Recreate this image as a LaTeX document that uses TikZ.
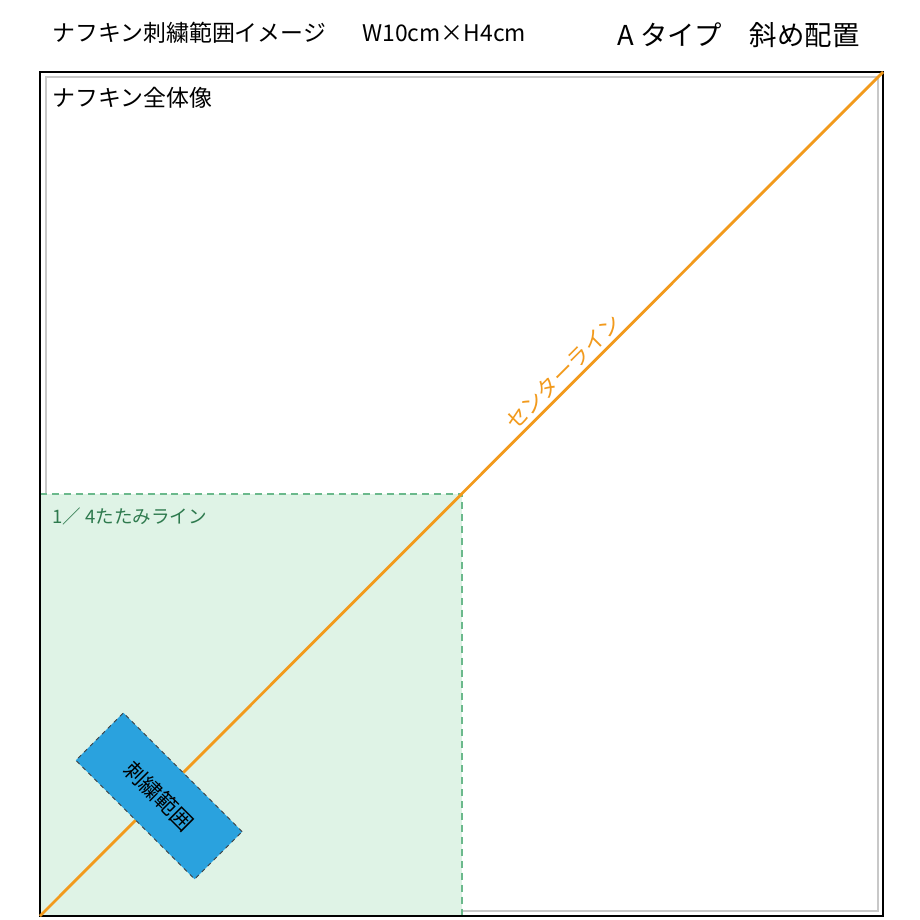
\documentclass[tikz,border=0pt]{standalone}
\usepackage{fontspec}
\newfontfamily\jp{Noto Sans CJK JP}
\definecolor{cline}{HTML}{F29A1C}
\definecolor{foldfill}{HTML}{DFF3E6}
\definecolor{folddash}{HTML}{6BB98C}
\definecolor{foldtext}{HTML}{2E7A4E}
\definecolor{areablue}{HTML}{2AA2DE}
\definecolor{innergrey}{HTML}{C8C8C8}
\tikzset{
  lbl/.style={anchor=west, inner sep=0pt, font=\jp\fontsize{16.3}{19}\selectfont},
  titlebig/.style={anchor=west, inner sep=0pt, font=\jp\fontsize{19.5}{23}\selectfont},
  folddash/.style={draw=folddash, line width=0.8pt, dash pattern=on 5pt off 3.5pt},
  areabox/.style={draw=black!75, fill=areablue, dashed, line width=0.6pt, rotate=-45,
    minimum width=42mm, minimum height=16.8mm, inner sep=0pt,
    font=\jp\fontsize{15.5}{18}\selectfont},
}
\begin{document}
\begin{tikzpicture}[x=0.25mm, y=-0.25mm]
\useasboundingbox (0,0) rectangle (920,920);
\fill[white] (0,0) rectangle (920,920);
% named corners
\coordinate (tl) at (40,72);
\coordinate (br) at (883,916);
\coordinate (bl) at (40,916);
\coordinate (tr) at (883,72);
\coordinate (ftl) at (40,494);
\coordinate (ftr) at (462,494);
\coordinate (fbr) at (462,916);
% inner grey line
\draw[innergrey, line width=0.8pt] (46,77) rectangle (878,911);
% fold quarter
\fill[foldfill] (ftl) rectangle (fbr);
\draw[folddash] (ftl) -- (ftr) -- (fbr);
% outer frame
\draw[black, line width=1.8pt] (tl) rectangle (br);
% centre line
\draw[cline, line width=2pt] (bl) -- (tr);
\node[rotate=45, text=cline, font=\jp\fontsize{15.5}{18}\selectfont, inner sep=0pt] (cl) at (563,372) {センターライン};
% embroidery area
\node[areabox] (area) at (159,796) {刺繍範囲};
% texts
\node[lbl] (t1) at (52,33) {ナフキン刺繍範囲イメージ};
\node[lbl] (t2) at (362,33) {W10cm×H4cm};
\node[titlebig] (t3) at (617,35) {A タイプ\hspace{1em}斜め配置};
\node[lbl] (whole) at (52,98) {ナフキン全体像};
\node[anchor=west, inner sep=0pt, text=foldtext, font=\jp\fontsize{13.2}{15}\selectfont] (fold) at (52,516) {1／ 4たたみライン};
\end{tikzpicture}
\end{document}
